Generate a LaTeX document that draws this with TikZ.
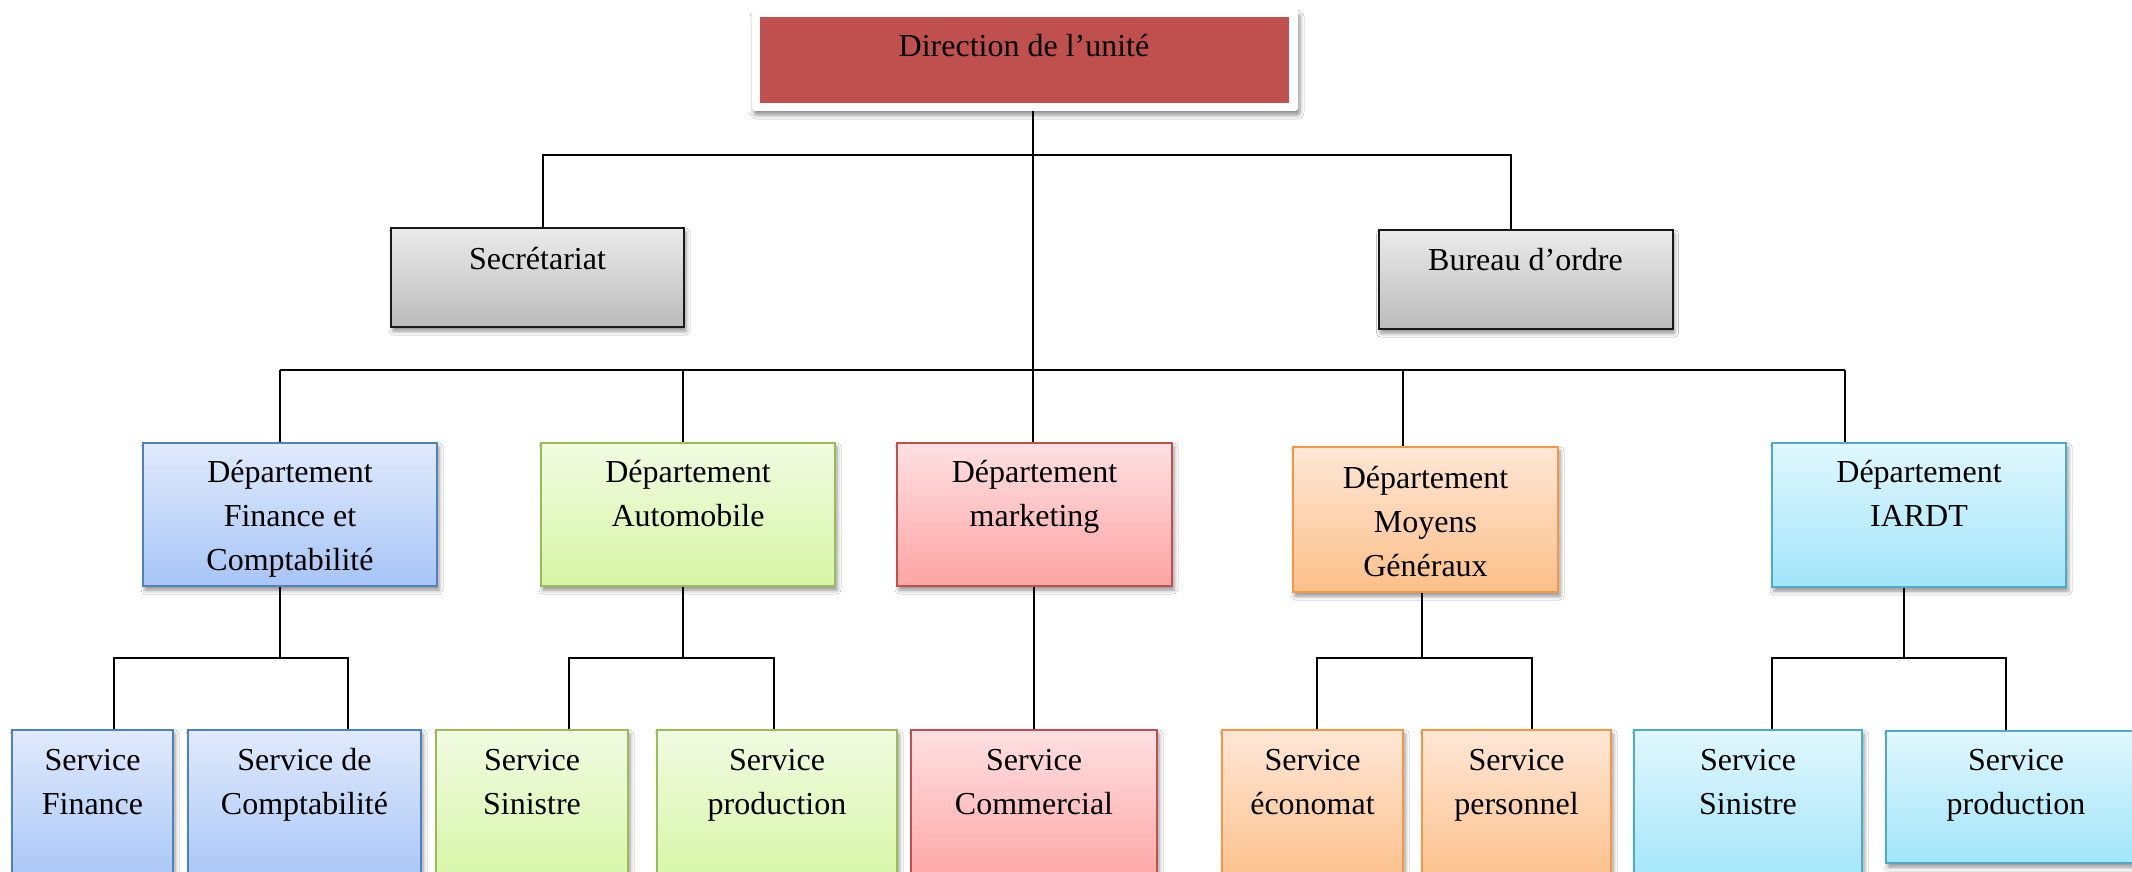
\documentclass[tikz,border=0pt]{standalone}
\usepackage{fontspec}
\setmainfont{Liberation Serif}
\usetikzlibrary{shadows.blur}
\newcommand\mlines[1]{\vtop{\halign{\hfil##\hfil\cr#1\crcr}}}
\definecolor{dirred}{HTML}{C0504D}
\definecolor{grayT}{HTML}{EBEBEB}\definecolor{grayB}{HTML}{BBBBBB}
\definecolor{blueT}{HTML}{E0EAFC}\definecolor{blueB}{HTML}{A7C5F6}\definecolor{blueD}{HTML}{4F81BD}
\definecolor{greenT}{HTML}{F1FBE1}\definecolor{greenB}{HTML}{D6F6A5}\definecolor{greenD}{HTML}{9BBB59}
\definecolor{pinkT}{HTML}{FFE0E2}\definecolor{pinkB}{HTML}{FDA4A4}\definecolor{pinkD}{HTML}{C0504D}
\definecolor{orT}{HTML}{FFE7D6}\definecolor{orB}{HTML}{FCBF89}\definecolor{orD}{HTML}{F79646}
\definecolor{cyT}{HTML}{E0F7FD}\definecolor{cyB}{HTML}{A2E5FA}\definecolor{cyD}{HTML}{4BACC6}
\begin{document}
\begin{tikzpicture}[x=1pt,y=-1pt,
  shd/.style={blur shadow={shadow xshift=2pt,shadow yshift=-4pt,shadow blur radius=4pt,shadow opacity=45}},
  box/.style={rectangle,inner sep=0pt,line width=2pt,shd},
  graybox/.style={box,draw=black!90,top color=grayT,bottom color=grayB},
  bluebox/.style={box,draw=blueD,top color=blueT,bottom color=blueB},
  greenbox/.style={box,draw=greenD,top color=greenT,bottom color=greenB},
  pinkbox/.style={box,draw=pinkD,top color=pinkT,bottom color=pinkB},
  orbox/.style={box,draw=orD,top color=orT,bottom color=orB},
  cybox/.style={box,draw=cyD,top color=cyT,bottom color=cyB},
  txt/.style={anchor=base,inner sep=0pt,font=\fontsize{32}{44}\selectfont},
  conn/.style={line width=2pt,black}]
\useasboundingbox (0,0) rectangle (2132,872);
\fill[white] (0,0) rectangle (2132,872);
% top
\node[rectangle,fill=white,rounded corners=3pt,minimum width=546pt,minimum height=101pt,shd] (dirframe) at (1025,60.5) {};
\node[rectangle,fill=dirred,minimum width=529pt,minimum height=86pt] (dir) at (1024.5,60) {};
\node[txt] (tdir) at (1024,57) {Direction de l’unité};
\node[graybox,minimum width=293pt,minimum height=99pt] (sec) at (537.5,277.5) {};
\node[txt] (tsec) at (537.5,269) {Secrétariat};
\node[graybox,minimum width=294pt,minimum height=99pt] (bur) at (1525.5,279.5) {};
\node[txt] (tbur) at (1525.5,270) {Bureau d’ordre};
% departments
\node[bluebox,minimum width=294pt,minimum height=143pt] (dfin) at (290,514.5) {};
\node[txt] (tdfin) at (290,482) {\mlines{Département\cr Finance et\cr Comptabilité}};
\node[greenbox,minimum width=294pt,minimum height=143pt] (dauto) at (688,514.5) {};
\node[txt] (tdauto) at (688,482) {\mlines{Département\cr Automobile}};
\node[pinkbox,minimum width=275pt,minimum height=143pt] (dmkt) at (1034.5,514.5) {};
\node[txt] (tdmkt) at (1034.5,482) {\mlines{Département\cr marketing}};
\node[orbox,minimum width=265pt,minimum height=145pt] (dmoy) at (1425.5,519.5) {};
\node[txt] (tdmoy) at (1425.5,488) {\mlines{Département\cr Moyens\cr Généraux}};
\node[cybox,minimum width=294pt,minimum height=144pt] (diar) at (1919,515) {};
\node[txt] (tdiar) at (1919,482) {\mlines{Département\cr IARDT}};
% services
\node[bluebox,minimum width=161pt,minimum height=155pt] (sfin) at (92.5,807.5) {};
\node[txt] (tsfin) at (92.5,770) {\mlines{Service\cr Finance}};
\node[bluebox,minimum width=233pt,minimum height=155pt] (scpt) at (304.5,807.5) {};
\node[txt] (tscpt) at (304.5,770) {\mlines{Service de\cr Comptabilité}};
\node[greenbox,minimum width=192pt,minimum height=155pt] (ssin1) at (532,807.5) {};
\node[txt] (tssin1) at (532,770) {\mlines{Service\cr Sinistre}};
\node[greenbox,minimum width=240pt,minimum height=155pt] (sprod1) at (777,807.5) {};
\node[txt] (tsprod1) at (777,770) {\mlines{Service\cr production}};
\node[pinkbox,minimum width=246pt,minimum height=155pt] (scom) at (1034,807.5) {};
\node[txt] (tscom) at (1034,770) {\mlines{Service\cr Commercial}};
\node[orbox,minimum width=181pt,minimum height=155pt] (seco) at (1312.5,807.5) {};
\node[txt] (tseco) at (1312.5,770) {\mlines{Service\cr économat}};
\node[orbox,minimum width=189pt,minimum height=155pt] (sper) at (1516.5,807.5) {};
\node[txt] (tsper) at (1516.5,770) {\mlines{Service\cr personnel}};
\node[cybox,minimum width=228pt,minimum height=155pt] (ssin2) at (1748,807.5) {};
\node[txt] (tssin2) at (1748,770) {\mlines{Service\cr Sinistre}};
\node[cybox,minimum width=260pt,minimum height=132pt] (sprod2) at (2016,797) {};
\node[txt] (tsprod2) at (2016,770) {\mlines{Service\cr production}};
% connectors
\coordinate (t0) at (1033,111);
\coordinate (m0) at (1033,370);
\coordinate (u1) at (543,155);
\coordinate (u2) at (1511,155);
\coordinate (m1) at (280,370);
\coordinate (m2) at (683,370);
\coordinate (m4) at (1403,370);
\coordinate (m5) at (1845,370);
\draw[conn] (dirframe.south -| t0) -- (m0);
\draw[conn] (sec.north -| u1) -- (u1) -- (u2) -- (bur.north -| u2);
\draw[conn] (m1) -- (m5);
\draw[conn] (m1) -- (dfin.north -| m1);
\draw[conn] (m2) -- (dauto.north -| m2);
\draw[conn] (m0) -- (dmkt.north -| m0);
\draw[conn] (m4) -- (dmoy.north -| m4);
\draw[conn] (m5) -- (diar.north -| m5);
% sub-buses
\coordinate (a0) at (280,658);
\coordinate (a1) at (114,658);\coordinate (a2) at (348,658);
\coordinate (b0) at (683,658);
\coordinate (b1) at (569,658);\coordinate (b2) at (774,658);
\coordinate (c0) at (1034,658);
\coordinate (d0) at (1422,658);
\coordinate (d1) at (1317,658);\coordinate (d2) at (1532,658);
\coordinate (e0) at (1904,658);
\coordinate (e1) at (1772,658);\coordinate (e2) at (2006,658);
\draw[conn] (dfin.south -| a0) -- (a0);
\draw[conn] (sfin.north -| a1) -- (a1) -- (a2) -- (scpt.north -| a2);
\draw[conn] (dauto.south -| b0) -- (b0);
\draw[conn] (ssin1.north -| b1) -- (b1) -- (b2) -- (sprod1.north -| b2);
\draw[conn] (dmkt.south -| c0) -- (scom.north -| c0);
\draw[conn] (dmoy.south -| d0) -- (d0);
\draw[conn] (seco.north -| d1) -- (d1) -- (d2) -- (sper.north -| d2);
\draw[conn] (diar.south -| e0) -- (e0);
\draw[conn] (ssin2.north -| e1) -- (e1) -- (e2) -- (sprod2.north -| e2);
\end{tikzpicture}
\end{document}
